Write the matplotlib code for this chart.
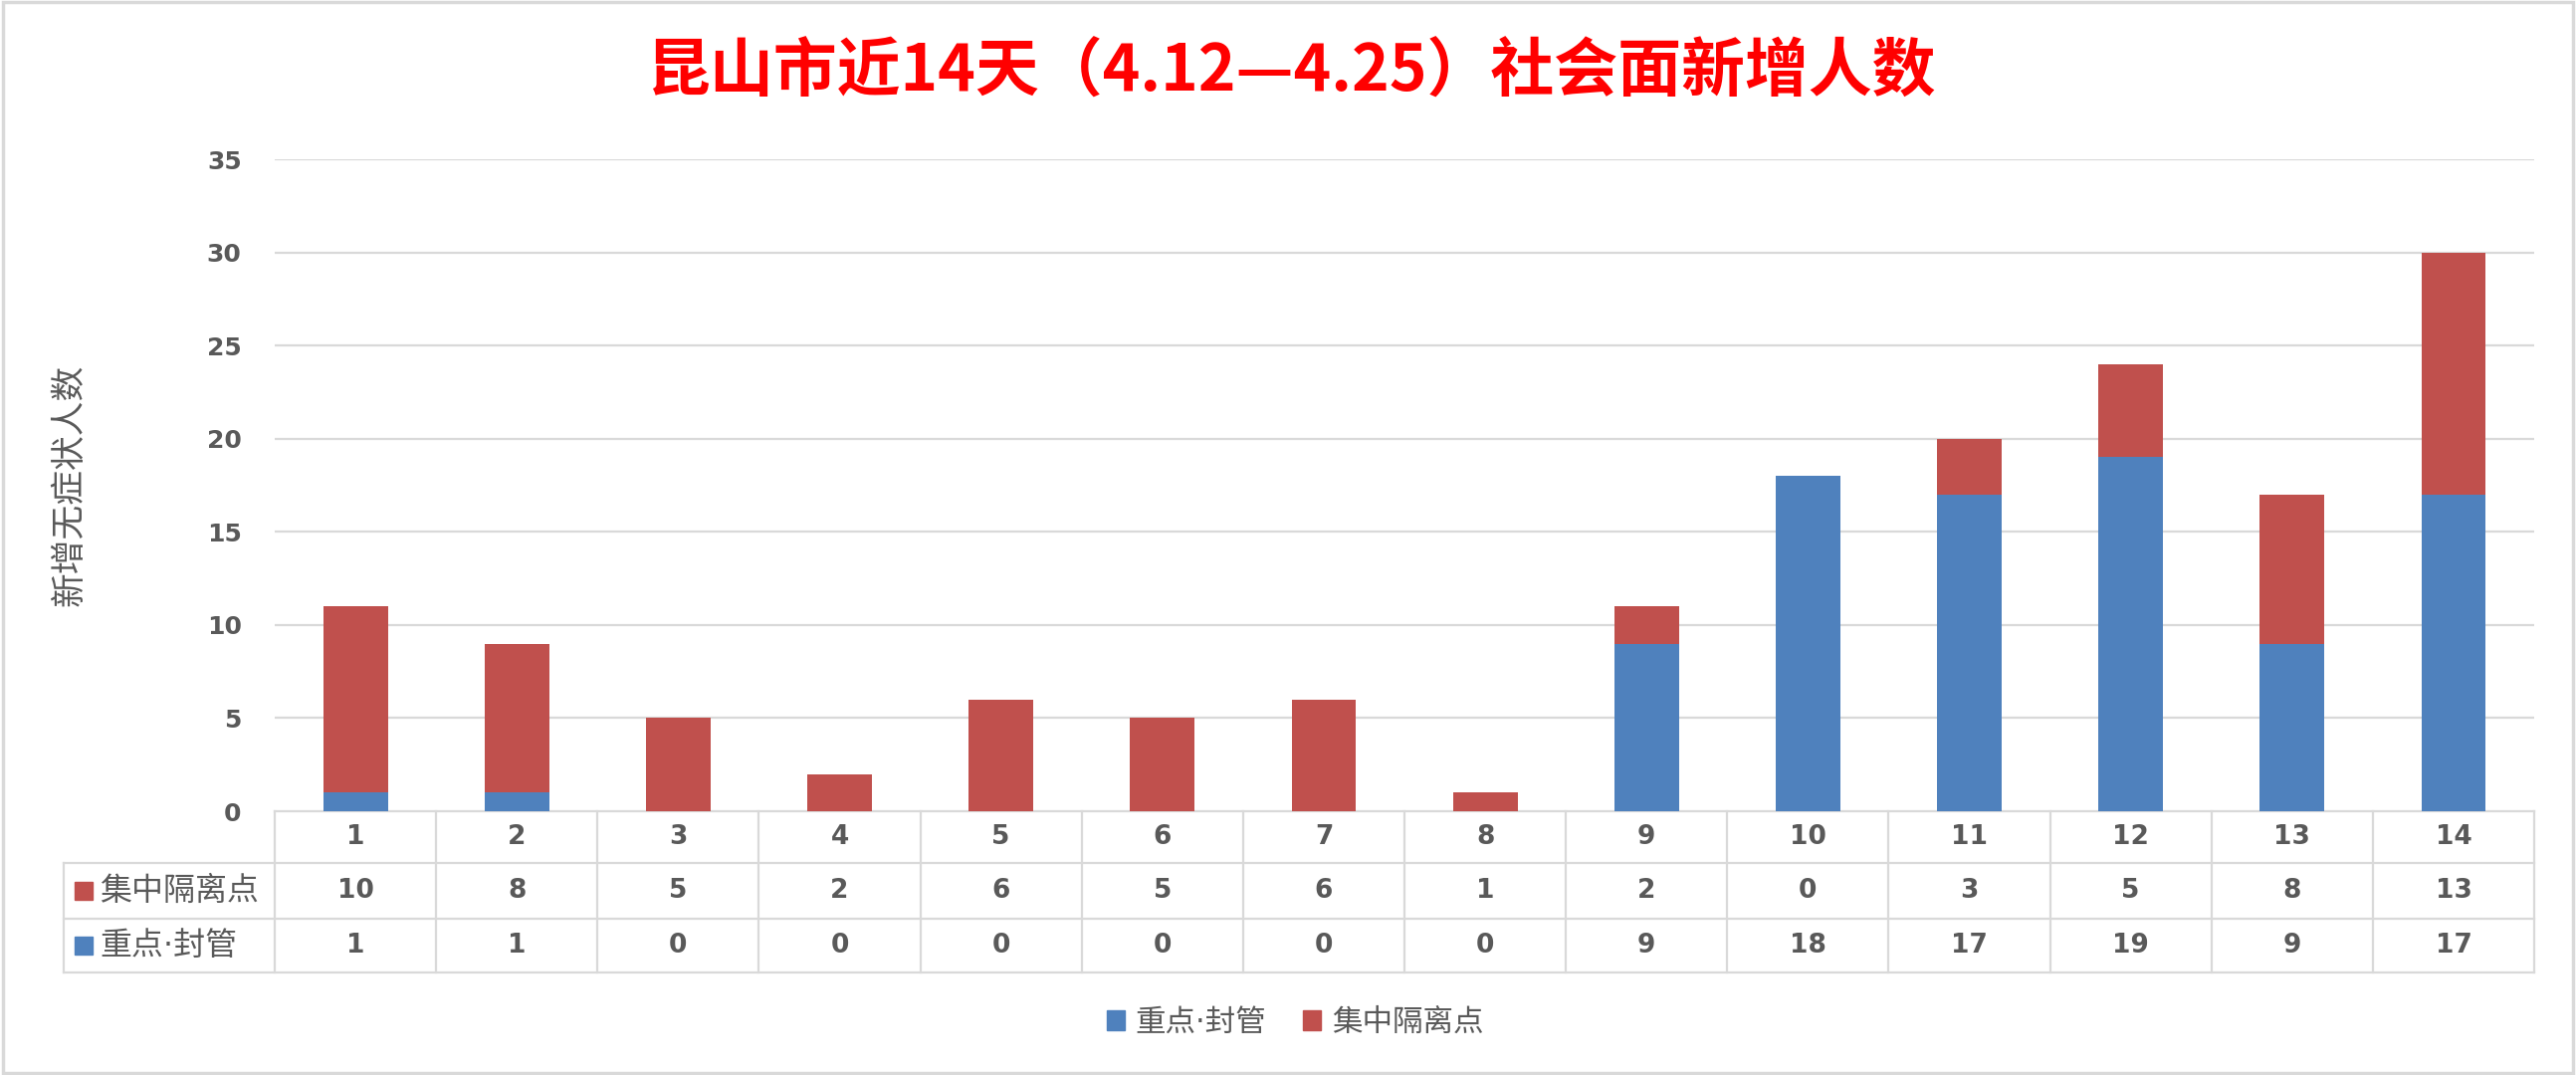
import matplotlib
matplotlib.use("Agg")
import matplotlib.pyplot as plt
from matplotlib.patches import Patch, Rectangle
from matplotlib.transforms import blended_transform_factory

plt.rcParams["font.family"] = ["Noto Sans CJK SC", "DejaVu Sans"]

days = ["1", "2", "3", "4", "5", "6", "7", "8", "9", "10", "11", "12", "13", "14"]
keyarea = [1, 1, 0, 0, 0, 0, 0, 0, 9, 18, 17, 19, 9, 17]
quarantine = [10, 8, 5, 2, 6, 5, 6, 1, 2, 0, 3, 5, 8, 13]
series_names = ["重点·封管", "集中隔离点"]
title = "昆山市近14天（4.12—4.25）社会面新增人数"
ylabel = "新增无症状人数"

blue = "#4F81BD"
red = "#C0504D"
grey_txt = "#595959"
line_c = "#D9D9D9"
# DejaVu first so the middle dot stays narrow, CJK glyphs fall back
label_fam = ["DejaVu Sans", "Noto Sans CJK SC"]

fig = plt.figure(figsize=(25.88, 10.8), dpi=100)
ax = fig.add_axes([0.10665, 0.24537, 0.87713, 0.60648])

x = list(range(len(days)))
ax.bar(x, keyarea, width=0.4, color=blue, zorder=3)
ax.bar(x, quarantine, width=0.4, bottom=keyarea, color=red, zorder=3)

ax.set_xlim(-0.5, len(days) - 0.5)
ax.set_ylim(0, 35)
ax.set_yticks(range(0, 40, 5))
ax.set_xticks([])
for s in ax.spines.values():
    s.set_visible(False)
ax.tick_params(axis="y", length=0, pad=24)
for lab in ax.get_yticklabels():
    lab.set_fontfamily("DejaVu Sans")
    lab.set_fontweight("bold")
    lab.set_fontsize(18)
    lab.set_color(grey_txt)
for yv in range(5, 40, 5):
    ax.axhline(yv, color=line_c, lw=1.6, zorder=1)

# data table under the axis
tr = blended_transform_factory(ax.transData, ax.transAxes)
rows_y = [0, -0.0794, -0.1649, -0.2473]
left_frac = -0.0934
kw = dict(color=line_c, lw=1.6, clip_on=False)
ax.plot([-0.5, len(days) - 0.5], [0, 0], transform=tr, **kw)
for yy in rows_y[1:]:
    ax.plot([left_frac, 1], [yy, yy], transform=ax.transAxes, **kw)
ax.plot([left_frac, left_frac], [rows_y[1], rows_y[3]], transform=ax.transAxes, **kw)
for k in range(len(days) + 1):
    ax.plot([k - 0.5, k - 0.5], [0, rows_y[3]], transform=tr, **kw)

row_c = [(rows_y[i] + rows_y[i + 1]) / 2 for i in range(3)]
num_kw = dict(transform=tr, ha="center", va="center", fontsize=19,
              fontweight="bold", color=grey_txt, family="DejaVu Sans")
for i, d in enumerate(days):
    ax.text(i, row_c[0], d, **num_kw)
    ax.text(i, row_c[1], str(quarantine[i]), **num_kw)
    ax.text(i, row_c[2], str(keyarea[i]), **num_kw)

for yc, name, col in [(row_c[1], series_names[1], red), (row_c[2], series_names[0], blue)]:
    ax.plot([-0.0846], [yc], marker="s", markersize=13, color=col,
            transform=ax.transAxes, clip_on=False)
    ax.text(-0.0775, yc, name, transform=ax.transAxes, ha="left", va="center",
            fontsize=23, color=grey_txt, family=label_fam)

fig.text(0.501, 0.933, title, ha="center", va="center", fontsize=46,
         fontweight="bold", color="#FF0000")
fig.text(0.027, 0.549, ylabel, ha="center", va="center", rotation=90,
         fontsize=25, color=grey_txt)

handles = [Patch(color=blue), Patch(color=red)]
fig.legend(handles, series_names, loc="center", bbox_to_anchor=(0.5027, 0.049),
           ncol=2, frameon=False, prop={"family": label_fam, "size": 22},
           labelcolor=grey_txt, handlelength=0.6, handleheight=0.6,
           handletextpad=0.35, columnspacing=1.2)

fig.add_artist(Rectangle((0.001, 0.002), 0.998, 0.996, transform=fig.transFigure,
                         fill=False, edgecolor=line_c, lw=2.5))

fig.savefig("out.png", dpi=100, facecolor="white")
